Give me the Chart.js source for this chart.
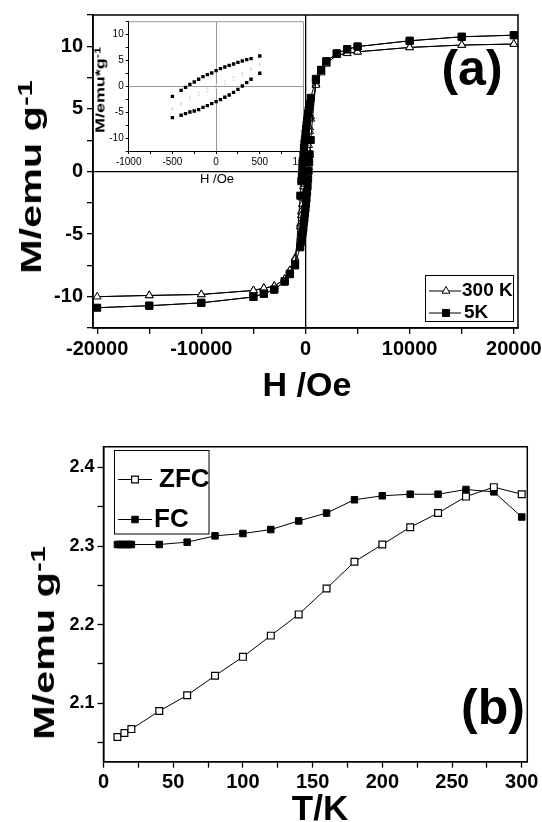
<!DOCTYPE html>
<html>
<head>
<meta charset="utf-8">
<script src="https://cdn.jsdelivr.net/npm/chart.js@4.4.1/dist/chart.umd.min.js"></script>
<style>
  body { margin: 0; background: #fff; }
  #page { position: relative; width: 542px; height: 822px; overflow: hidden; background: #fff; }
  canvas { position: absolute; }
  .t { position: absolute; font-family: 'Liberation Sans', Arial, sans-serif; font-weight: bold; line-height: 1; white-space: nowrap; color: #000; transform: translate(-50%, -50%); }
  .rot { transform: translate(-50%, -50%) rotate(-90deg) scaleX(1.38); }
  .sup { position: relative; top: -0.42em; font-size: 0.7em; }
</style>
</head>
<body>
<div id="page">
  <canvas id="inset" width="250" height="180" style="left:60px;top:10px;z-index:0"></canvas>
  <canvas id="chartA" width="542" height="400" style="left:0;top:0;z-index:1"></canvas>
  <canvas id="chartB" width="542" height="422" style="left:0;top:400px;z-index:1"></canvas>

  <div class="t" style="left:472px;top:68px;font-size:50px;z-index:2">(a)</div>
  <div class="t" style="left:307px;top:384px;font-size:34px;z-index:2">H /Oe</div>
  <div class="t rot" style="left:31px;top:177px;font-size:30px;z-index:2">M/emu g<span class="sup">-1</span></div>
  <div class="t rot" style="left:100px;top:90px;font-size:13px;z-index:2">M/emu*g<span class="sup">-1</span></div>
  <div class="t" style="left:217px;top:178px;font-size:13px;font-weight:normal;z-index:2">H /Oe</div>

  <div class="t" style="left:493px;top:707px;font-size:50px;z-index:2">(b)</div>
  <div class="t" style="left:320px;top:807px;font-size:35px;z-index:2">T/K</div>
  <div class="t rot" style="left:44px;top:643px;font-size:30px;z-index:2">M/emu g<span class="sup">-1</span></div>
</div>
<script>
// (a) hysteresis loops, points in measurement order (down branch, then up branch)
const h5K = [20000, 15000, 10000, 5000, 4000, 3000, 2000, 1500, 1000, 500, 400, 350, 300, 250, 200, 150, 100, 50, 0,
  -50, -100, -150, -200, -250, -300, -350, -400, -500, -1000, -1500, -2000, -3000, -4000, -5000, -10000, -15000, -20000,
  -15000, -10000, -5000, -4000, -3000, -2000, -1500, -1000, -500, -400, -350, -300, -250, -200, -150, -100, -50, 0,
  50, 100, 150, 200, 250, 300, 350, 400, 500, 1000, 1500, 2000, 3000, 4000, 5000, 10000, 15000, 20000];
const m5K = [10.89, 10.76, 10.44, 9.98, 9.76, 9.43, 8.8, 8.12, 7.4, 5.88, 5.36, 5.16, 4.91, 4.64, 4.33, 4.06, 3.75, 3.42, 3.04,
  2.59, 2.26, 1.88, 1.36, 0.85, 0.39, -0.19, -0.77, -1.93, -7.5, -8.2, -8.76, -9.43, -9.76, -10.02, -10.49, -10.72, -10.88,
  -10.72, -10.49, -10.02, -9.76, -9.43, -8.8, -8.15, -7.4, -6.05, -5.6, -5.28, -4.96, -4.76, -4.5, -4.06, -3.73, -3.35, -2.96,
  -2.57, -2.12, -1.67, -1.16, -0.58, 0.06, 0.72, 1.36, 2.52, 7.3, 8.1, 8.8, 9.43, 9.76, 9.98, 10.44, 10.76, 10.89];

const h300K = [20000, 15000, 10000, 5000, 4000, 3000, 2000, 1500, 1000, 500, 400, 300, 200, 100, 0,
  -100, -200, -300, -400, -500, -1000, -1500, -2000, -3000, -4000, -5000, -10000, -15000, -20000,
  -15000, -10000, -5000, -4000, -3000, -2000, -1500, -1000, -500, -400, -300, -200, -100, 0,
  100, 200, 300, 400, 500, 1000, 1500, 2000, 3000, 4000, 5000, 10000, 15000, 20000];
const m300K = [10.18, 10.1, 9.91, 9.56, 9.44, 9.3, 8.62, 8.0, 7.0, 4.4, 3.5, 2.6, 1.8, 1.0, 0.3,
  -0.4, -1.2, -2.1, -3.2, -4.2, -6.9, -7.9, -8.6, -9.16, -9.32, -9.5, -9.82, -9.9, -10.0,
  -9.9, -9.82, -9.5, -9.32, -9.16, -8.6, -7.9, -7.0, -4.4, -3.5, -2.6, -1.8, -1.0, -0.3,
  0.4, 1.2, 2.1, 3.2, 4.2, 6.9, 7.9, 8.6, 9.3, 9.44, 9.56, 9.91, 10.1, 10.18];

// tick positions of the field axis (labels on every other one)
const hTicks = [-20000, -15000, -10000, -5000, 0, 5000, 10000, 15000, 20000];

// (b) ZFC / FC curves
const tZFC = [10, 15, 20, 40, 60, 80, 100, 120, 140, 160, 180, 200, 220, 240, 260, 280, 300];
const mZFC = [2.057, 2.062, 2.067, 2.090, 2.110, 2.135, 2.159, 2.186, 2.213, 2.246, 2.280, 2.302, 2.324, 2.342, 2.363, 2.375, 2.366];
const tFC = [10, 12, 14, 16, 18, 20, 40, 60, 80, 100, 120, 140, 160, 180, 200, 220, 240, 260, 280, 300];
const mFC = [2.302, 2.302, 2.302, 2.302, 2.302, 2.302, 2.302, 2.305, 2.313, 2.316, 2.321, 2.332, 2.342, 2.359, 2.364, 2.366, 2.366, 2.372, 2.369, 2.337];

const FONT = "'Liberation Sans', Arial, sans-serif";

function pts(xs, ys, keep) {
  const out = [];
  for (let i = 0; i < xs.length; i++) {
    if (!keep || keep(xs[i])) out.push({ x: xs[i], y: ys[i] });
  }
  return out;
}

// frame around the plot area
const frame = {
  id: 'frame',
  afterDraw(chart, args, opts) {
    const a = chart.chartArea, ctx = chart.ctx;
    ctx.save();
    ctx.lineWidth = opts.width || 1.5;
    ctx.strokeStyle = opts.color || '#000';
    ctx.beginPath();
    if (opts.topRightOnly) {
      ctx.moveTo(a.left, a.top); ctx.lineTo(a.right, a.top); ctx.lineTo(a.right, a.bottom);
    } else {
      ctx.rect(a.left, a.top, a.right - a.left, a.bottom - a.top);
    }
    ctx.stroke();
    ctx.restore();
  }
};

// legend in a box, drawn inside the plot
const boxLegend = {
  id: 'boxLegend',
  afterDraw(chart, args, opts) {
    if (!opts.box) return;
    const ctx = chart.ctx;
    const b = opts.box;
    ctx.save();
    ctx.lineWidth = 1;
    ctx.strokeStyle = '#000';
    ctx.strokeRect(b[0], b[1], b[2] - b[0], b[3] - b[1]);
    opts.rows.forEach(row => {
      const ds = chart.data.datasets[row.index];
      ctx.strokeStyle = '#000';
      ctx.lineWidth = 1;
      ctx.beginPath();
      ctx.moveTo(opts.line[0], row.y);
      ctx.lineTo(opts.line[1], row.y);
      ctx.stroke();
      ctx.fillStyle = ds.pointBackgroundColor;
      ctx.strokeStyle = ds.pointBorderColor;
      ctx.lineWidth = ds.pointBorderWidth;
      Chart.helpers.drawPoint(ctx, { pointStyle: ds.pointStyle, radius: ds.pointRadius, rotation: 0, borderWidth: ds.pointBorderWidth }, opts.marker, row.y);
      ctx.fillStyle = '#000';
      ctx.font = opts.font;
      ctx.textBaseline = 'middle';
      ctx.fillText(ds.label, row.tx, row.y);
    });
    ctx.restore();
  }
};

function tickFont(size, weight) {
  return { family: FONT, size: size, weight: weight || 'bold' };
}

// main hysteresis chart
new Chart(document.getElementById('chartA'), {
  type: 'scatter',
  data: {
    datasets: [
      {
        label: '5K', data: pts(h5K, m5K), showLine: true, order: 0,
        borderColor: '#000', borderWidth: 1, pointStyle: 'rect', pointRadius: 5,
        pointBackgroundColor: '#000', pointBorderColor: '#000', pointBorderWidth: 1
      },
      {
        label: '300 K', data: pts(h300K, m300K), showLine: true, order: 1,
        borderColor: '#000', borderWidth: 1, pointStyle: 'triangle', pointRadius: 4.5,
        pointBackgroundColor: '#fff', pointBorderColor: '#000', pointBorderWidth: 1
      }
    ]
  },
  options: {
    responsive: false, animation: false, devicePixelRatio: 1,
    layout: { padding: { top: 15, right: 24, bottom: 0, left: 0 } },
    plugins: {
      legend: { display: false }, tooltip: { enabled: false },
      frame: { width: 1.5 },
      boxLegend: {
        box: [425.5, 275.5, 513.5, 321.5], line: [429, 461], marker: 446,
        font: 'bold 19px ' + FONT,
        rows: [{ index: 1, y: 291, tx: 462 }, { index: 0, y: 313, tx: 464 }]
      }
    },
    scales: {
      x: {
        type: 'linear', min: -20400, max: 20400,
        afterBuildTicks(s) { s.ticks = hTicks.map(v => ({ value: v })); },
        afterFit(s) { s.height = 72; s.paddingLeft = 0; s.paddingRight = 0; },
        ticks: {
          autoSkip: false, maxRotation: 0, padding: 3,
          color: '#000', font: tickFont(20),
          callback: v => (v % 10000 === 0 ? String(v) : '')
        },
        grid: {
          color: c => (c.tick && c.tick.value === 0 ? '#000' : 'rgba(0,0,0,0)'),
          lineWidth: 1.3, tickColor: '#000', tickLength: 6, tickWidth: 1.3
        },
        border: { color: '#000', width: 1.5 }
      },
      y: {
        min: -12.5, max: 12.5,
        afterFit(s) { s.width = 93; s.paddingTop = 0; s.paddingBottom = 0; },
        ticks: {
          stepSize: 2.5, includeBounds: false, autoSkip: false, padding: 4,
          color: '#000', font: tickFont(20),
          callback: v => (v % 5 === 0 ? String(v) : '')
        },
        grid: {
          color: c => (c.tick && c.tick.value === 0 ? '#000' : 'rgba(0,0,0,0)'),
          lineWidth: 1.3, tickColor: '#000', tickLength: 6, tickWidth: 1.3
        },
        border: { color: '#000', width: 1.5 }
      }
    }
  },
  plugins: [frame, boxLegend]
});

// inset: low field part of the loops
new Chart(document.getElementById('inset'), {
  type: 'scatter',
  data: {
    datasets: [
      {
        label: '5K', data: pts(h5K, m5K, h => Math.abs(h) <= 500), showLine: false, order: 0,
        pointStyle: 'rect', pointRadius: 2.4, pointBackgroundColor: '#000', pointBorderColor: '#000', pointBorderWidth: 0
      },
      {
        label: '300 K', data: pts(h300K, m300K, h => Math.abs(h) <= 500), showLine: false, order: 1,
        pointStyle: 'rect', pointRadius: 1.3, pointBackgroundColor: '#dcdcdc', pointBorderColor: '#dcdcdc', pointBorderWidth: 0
      }
    ]
  },
  options: {
    responsive: false, animation: false, devicePixelRatio: 1,
    layout: { padding: { top: 11.7, right: 6.5, bottom: 0, left: 0 } },
    plugins: {
      legend: { display: false }, tooltip: { enabled: false },
      frame: { width: 1, color: '#999', topRightOnly: true }
    },
    scales: {
      x: {
        type: 'linear', min: -1000, max: 1000,
        afterFit(s) { s.height = 39; s.paddingLeft = 0; s.paddingRight = 0; },
        ticks: {
          stepSize: 250, includeBounds: false, autoSkip: false, maxRotation: 0, padding: 2,
          color: '#000', font: tickFont(10, 'normal'),
          callback: v => (v % 500 === 0 ? String(v) : '')
        },
        grid: {
          color: c => (c.tick && c.tick.value === 0 ? '#999' : 'rgba(0,0,0,0)'),
          lineWidth: 1, tickColor: '#000', tickLength: 3
        },
        border: { color: '#000', width: 1 }
      },
      y: {
        min: -12.5, max: 12.5,
        afterFit(s) { s.width = 68.7; s.paddingTop = 0; s.paddingBottom = 0; },
        ticks: {
          stepSize: 2.5, includeBounds: false, autoSkip: false, padding: 2,
          color: '#000', font: tickFont(10, 'normal'),
          callback: v => (v % 5 === 0 ? String(v) : '')
        },
        grid: {
          color: c => (c.tick && c.tick.value === 0 ? '#999' : 'rgba(0,0,0,0)'),
          lineWidth: 1, tickColor: '#000', tickLength: 3
        },
        border: { color: '#000', width: 1 }
      }
    }
  },
  plugins: [frame]
});

// ZFC / FC chart
new Chart(document.getElementById('chartB'), {
  type: 'scatter',
  data: {
    datasets: [
      {
        label: 'ZFC', data: pts(tZFC, mZFC), showLine: true,
        borderColor: '#000', borderWidth: 1, pointStyle: 'rect', pointRadius: 4.8,
        pointBackgroundColor: '#fff', pointBorderColor: '#000', pointBorderWidth: 1.2
      },
      {
        label: 'FC', data: pts(tFC, mFC), showLine: true,
        borderColor: '#000', borderWidth: 1, pointStyle: 'rect', pointRadius: 4.6,
        pointBackgroundColor: '#000', pointBorderColor: '#000', pointBorderWidth: 1
      }
    ]
  },
  options: {
    responsive: false, animation: false, devicePixelRatio: 1,
    layout: { padding: { top: 46.7, right: 14.7, bottom: 0, left: 0 } },
    plugins: {
      legend: { display: false }, tooltip: { enabled: false },
      frame: { width: 1.5 },
      boxLegend: {
        box: [114.5, 50.5, 209, 134], line: [118, 152], marker: 135,
        font: 'bold 26px ' + FONT,
        rows: [{ index: 0, y: 79.5, tx: 159 }, { index: 1, y: 119.5, tx: 154 }]
      }
    },
    scales: {
      x: {
        type: 'linear', min: 0, max: 304,
        afterFit(s) { s.height = 60.3; s.paddingLeft = 0; s.paddingRight = 0; },
        ticks: {
          stepSize: 25, includeBounds: false, autoSkip: false, maxRotation: 0, padding: 3,
          color: '#000', font: tickFont(20),
          callback: v => (v % 50 === 0 ? String(v) : '')
        },
        grid: { display: true, color: 'rgba(0,0,0,0)', tickColor: '#000', tickLength: 6, tickWidth: 1.3 },
        border: { color: '#000', width: 1.5 }
      },
      y: {
        min: 2.0255, max: 2.4265,
        afterFit(s) { s.width = 103.5; s.paddingTop = 0; s.paddingBottom = 0; },
        ticks: {
          stepSize: 0.05, includeBounds: false, autoSkip: false, padding: 3,
          color: '#000', font: tickFont(18),
          callback: v => (Math.abs(v * 10 - Math.round(v * 10)) < 1e-6 ? v.toFixed(1) : '')
        },
        grid: { display: true, color: 'rgba(0,0,0,0)', tickColor: '#000', tickLength: 6, tickWidth: 1.3 },
        border: { color: '#000', width: 1.5 }
      }
    }
  },
  plugins: [frame, boxLegend]
});
</script>
</body>
</html>
